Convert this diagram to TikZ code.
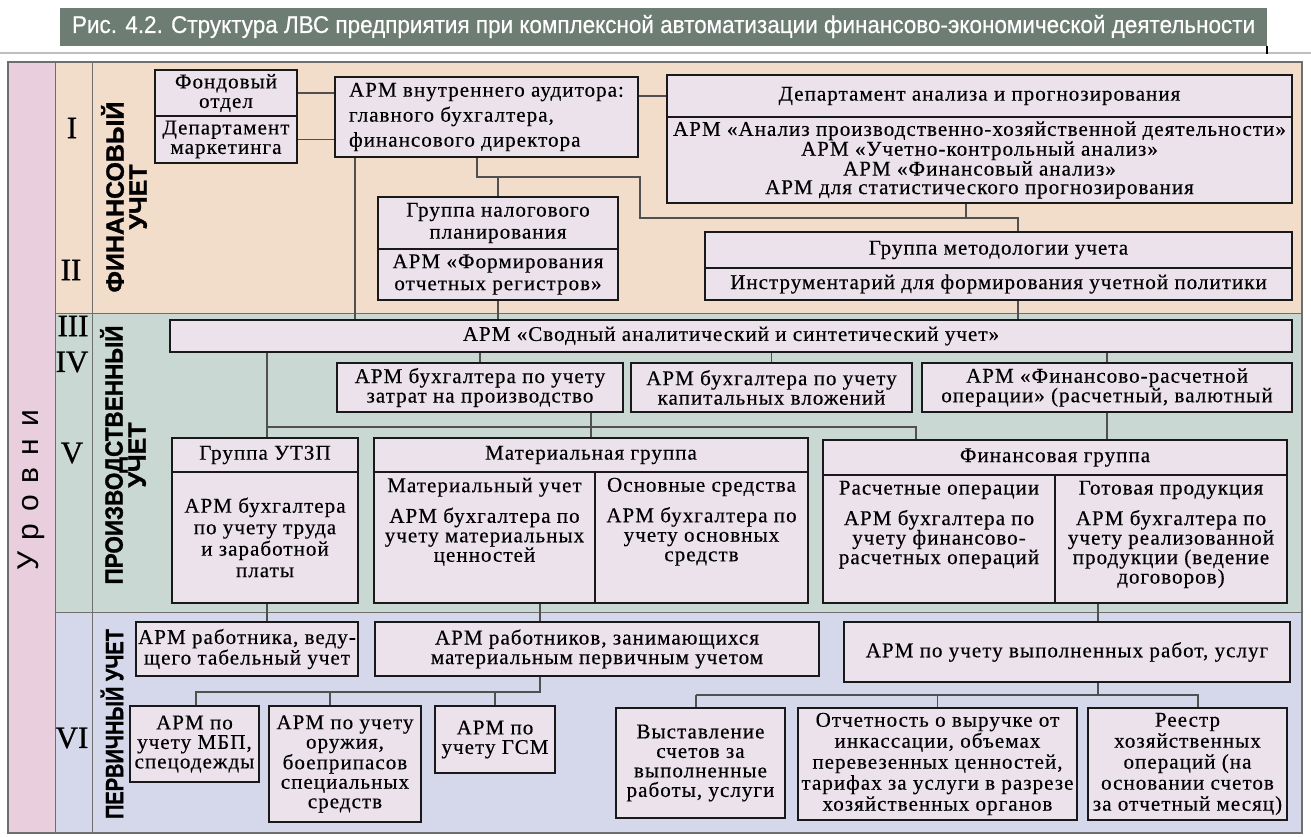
\documentclass[tikz,border=0pt]{standalone}
\usepackage{fontspec}
\usepackage{graphicx}
\setmainfont{Liberation Serif}[LetterSpace=5, FakeBold=0.4]
\newfontfamily\romanf{Liberation Serif}[FakeBold=0.8]
\newfontfamily\sansf{Liberation Sans}[FakeBold=1.2]
\newfontfamily\titlef{Liberation Sans}[FakeBold=0.5]
\newfontfamily\lvlf{Liberation Sans}[LetterSpace=40]
\usetikzlibrary{calc}
\definecolor{titlec}{RGB}{109,125,116}
\definecolor{finbg}{RGB}{242,221,202}
\definecolor{prodbg}{RGB}{202,216,211}
\definecolor{primbg}{RGB}{212,216,234}
\definecolor{lvlbg}{RGB}{233,207,221}
\definecolor{boxfill}{RGB}{236,226,236}
\definecolor{framec}{RGB}{110,110,110}
\definecolor{wirec}{RGB}{80,80,80}
\tikzset{
  box/.style={draw=black!90, line width=2.8pt, fill=boxfill, inner sep=1pt, align=center,
    font=\fontsize{21}{19.5}\selectfont},
  btext/.style={inner sep=0pt, align=center, font=\fontsize{21}{19.5}\selectfont},
  wire/.style={draw=wirec, line width=1.1pt},
  numeral/.style={font=\romanf\fontsize{31}{31}\selectfont, inner sep=0pt},
  seclabel/.style={rotate=90, align=center, inner sep=0pt, font=\sansf\bfseries\fontsize{25}{23}\selectfont},
  gridline/.style={draw=framec, line width=1pt}
}
\newcommand\bx[7][]{\node[box,minimum width={(#5-#3)*1pt},minimum height={(#6-#4)*1pt},#1] (#2) at ({(#3+#5)/2},{(#4+#6)/2}) {#7};}
\begin{document}
\begin{tikzpicture}[x=1pt,y=-1pt]
\useasboundingbox (0,0) rectangle (1311,836);
\fill[white] (0,0) rectangle (1311,836);
% title
\node[fill=titlec, minimum width=1207pt, minimum height=38pt, inner sep=0pt] (title) at (663.5,26.5)
  {\resizebox{1183pt}{18pt}{\titlef\color{white}Рис. 4.2. Структура ЛВС предприятия при комплексной автоматизации финансово-экономической деятельности}};
\draw[gray!50, line width=1.5pt] (0,53) -- (1311,53);
\draw[black, line width=2pt] (title.south east) -- ++(0,8);
% backgrounds
\fill[finbg] (55,62) rectangle (1302,313);
\fill[prodbg] (55,313) rectangle (1302,612);
\fill[primbg] (55,612) rectangle (1302,833);
\fill[lvlbg] (8,62) rectangle (55,833);
\draw[gridline, line width=1.4pt] (8,62) rectangle (1302,833);
\draw[gridline] (55,62) -- (55,833);
\draw[gridline] (92,62) -- (92,833);
\draw[gridline] (55,313) -- (1302,313);
\draw[gridline] (55,612) -- (1302,612);
% level labels
\node[rotate=90, font=\lvlf\fontsize{30}{30}\selectfont, inner sep=0pt] (lvl) at (31,490) {Уровни};
\node[numeral] (n1) at (72,128) {I};
\node[numeral] (n2) at (71,270) {II};
\node[numeral] (n3) at (73,326) {III};
\node[numeral] (n4) at (72,362) {IV};
\node[numeral] (n5) at (72,453) {V};
\node[numeral] (n6) at (72,738) {VI};
\node[seclabel] (sfin) at (124,197) {ФИНАНСОВЫЙ\\УЧЕТ};
\node[seclabel] (sprod) at (123,455) {\scalebox{0.9}[1]{ПРОИЗВОДСТВЕННЫЙ}\\УЧЕТ};
\node[seclabel] (sprim) at (112,724) {\scalebox{0.8}[1]{ПЕРВИЧНЫЙ УЧЕТ}};
% ---- Financial
\bx{FO}{155}{70}{297}{116}{Фондовый\\отдел}
\bx{DM}{155}{116}{297}{163}{Департамент\\маркетинга}
\bx[align=left, font=\fontsize{21}{25}\selectfont]{AUD}{335}{77}{638}{157}{АРМ внутреннего аудитора:\\главного бухгалтера,\\финансового директора}
\bx{DAPh}{667}{75}{1292}{117}{Департамент анализа и прогнозирования}
\bx[font=\fontsize{21}{18.5}\selectfont]{DAPb}{667}{117}{1292}{203}{АРМ «Анализ производственно-хозяйственной деятельности»\\АРМ «Учетно-контрольный анализ»\\АРМ «Финансовый анализ»\\АРМ для статистического прогнозирования}
\bx[font=\fontsize{21}{22}\selectfont]{GNh}{378}{197}{618}{249}{Группа налогового\\планирования}
\bx[font=\fontsize{21}{22}\selectfont]{GNb}{378}{249}{618}{300}{АРМ «Формирования\\отчетных регистров»}
\bx{GMh}{705}{232}{1292}{268}{Группа методологии учета}
\bx{GMb}{705}{268}{1292}{300}{Инструментарий для формирования учетной политики}
% ---- Production
\bx{SV}{170}{320}{1292}{352}{АРМ «Сводный аналитический и синтетический учет»}
\bx{Z1}{337}{363}{623}{412}{АРМ бухгалтера по учету\\затрат на производство}
\bx{Z2}{631}{363}{912}{412}{АРМ бухгалтера по учету\\капитальных вложений}
\bx{Z3}{922}{363}{1292}{412}{АРМ «Финансово-расчетной\\операции» (расчетный, валютный}
\bx{UTh}{172}{438}{358}{472}{Группа УТЗП}
\bx[font=\fontsize{21}{21.5}\selectfont]{UTb}{172}{472}{358}{603}{АРМ бухгалтера\\по учету труда\\и заработной\\платы}
\bx{MGh}{374}{438}{808}{472}{Материальная группа}
\bx{MGl}{374}{472}{595}{603}{}
\bx{MGr}{595}{472}{808}{603}{}
\bx{FGh}{823}{440}{1287}{475}{Финансовая группа}
\bx{FGl}{823}{475}{1055}{603}{}
\bx{FGr}{1055}{475}{1287}{603}{}
\node[btext, anchor=north] (MGlt) at ($(MGl.north)+(0,7)$) {Материальный учет\\[10pt]АРМ бухгалтера по\\учету материальных\\ценностей};
\node[btext, anchor=north] (MGrt) at ($(MGr.north)+(0,7)$) {Основные средства\\[10pt]АРМ бухгалтера по\\учету основных\\средств};
\node[btext, anchor=north] (FGlt) at ($(FGl.north)+(0,7)$) {Расчетные операции\\[10pt]АРМ бухгалтера по\\учету финансово-\\расчетных операций};
\node[btext, anchor=north] (FGrt) at ($(FGr.north)+(0,7)$) {Готовая продукция\\[10pt]АРМ бухгалтера по\\учету реализованной\\продукции (ведение\\договоров)};
% ---- Primary
\bx{AR1}{136}{622}{358}{676}{АРМ работника, веду-\\щего табельный учет}
\bx{AR2}{375}{622}{819}{676}{АРМ работников, занимающихся\\материальным первичным учетом}
\bx{AR3}{844}{622}{1290}{682}{АРМ по учету выполненных работ, услуг}
\bx{B1}{130}{706}{259}{782}{АРМ по\\учету МБП,\\спецодежды}
\bx{B2}{269}{706}{421}{822}{АРМ по учету\\оружия,\\боеприпасов\\специальных\\средств}
\bx{B3}{435}{706}{555}{773}{АРМ по\\учету ГСМ}
\bx{B4}{616}{708}{785}{818}{Выставление\\счетов за\\выполненные\\работы, услуги}
\bx[font=\fontsize{21}{21}\selectfont]{B5}{798}{708}{1077}{820}{Отчетность о выручке от\\инкассации, объемах\\перевезенных ценностей,\\тарифах за услуги в разрезе\\хозяйственных органов}
\bx[font=\fontsize{21}{21}\selectfont]{B6}{1088}{708}{1287}{820}{Реестр\\хозяйственных\\операций (на\\основании счетов\\за отчетный месяц)}
% ---- junction coordinates
\coordinate (xa) at (355,0);
\coordinate (xb) at (477,0);
\coordinate (j1) at (477,177);
\coordinate (j2) at (640,177);
\coordinate (j3) at (640,218);
\coordinate (j4) at (1018,218);
\coordinate (xd) at (966,0);
\coordinate (h1) at (267,427);
\coordinate (h2) at (916,427);
\coordinate (xm) at (540,0);
\coordinate (xf) at (1098,0);
\coordinate (p1) at (196,692);
\coordinate (p2) at (540,692);
\coordinate (xb2) at (330,0);
\coordinate (q1) at (696,695);
\coordinate (q2) at (1198,695);
% ---- connectors financial
\draw[wire] (FO.east) -- (FO.east -| AUD.west);
\draw[wire] (DM.east) -- (DM.east -| AUD.west);
\draw[wire] (DAPh.west -| AUD.east) -- (DAPh.west);
\draw[wire] (xa |- AUD.south) -- (xa |- SV.north);
\draw[wire] (xb |- AUD.south) -- (j1) -- (j2) -- (j3) -- (j4) -- (j4 |- GMh.north);
\draw[wire] (GNh.north |- j1) -- (GNh.north);
\draw[wire] (xd |- DAPb.south) -- (xd |- j3);
\draw[wire] (GNb.south) -- (GNb.south |- SV.north);
\draw[wire] (j4 |- GMb.south) -- (j4 |- SV.north);
% ---- connectors production
\draw[wire] (h1 |- SV.south) -- (h1 |- UTh.north);
\draw[wire] (h1) -- (h2) -- (h2 |- FGh.north);
\draw[wire] (Z1.north |- SV.south) -- (Z1.north);
\draw[wire] (Z2.north |- SV.south) -- (Z2.north);
\draw[wire] (Z3.north |- SV.south) -- (Z3.north);
\draw[wire] (MGh.north |- Z1.south) -- (MGh.north);
\draw[wire] (Z3.south) -- (Z3.south |- FGh.north);
% ---- connectors primary
\draw[wire] (h1 |- UTb.south) -- (h1 |- AR1.north);
\draw[wire] (xm |- MGl.south) -- (xm |- AR2.north);
\draw[wire] (xf |- FGr.south) -- (xf |- AR3.north);
\draw[wire] (p2 |- AR2.south) -- (p2) -- (p1) -- (p1 |- B1.north);
\draw[wire] (xb2 |- p1) -- (xb2 |- B2.north);
\draw[wire] (B3.north |- p1) -- (B3.north);
\draw[wire] (xf |- AR3.south) -- (xf |- q1);
\draw[wire] (q1) -- (q2) -- (q2 |- B6.north);
\draw[wire] (q1) -- (q1 |- B4.north);
\draw[wire] (B5.north |- q1) -- (B5.north);
\end{tikzpicture}
\end{document}
